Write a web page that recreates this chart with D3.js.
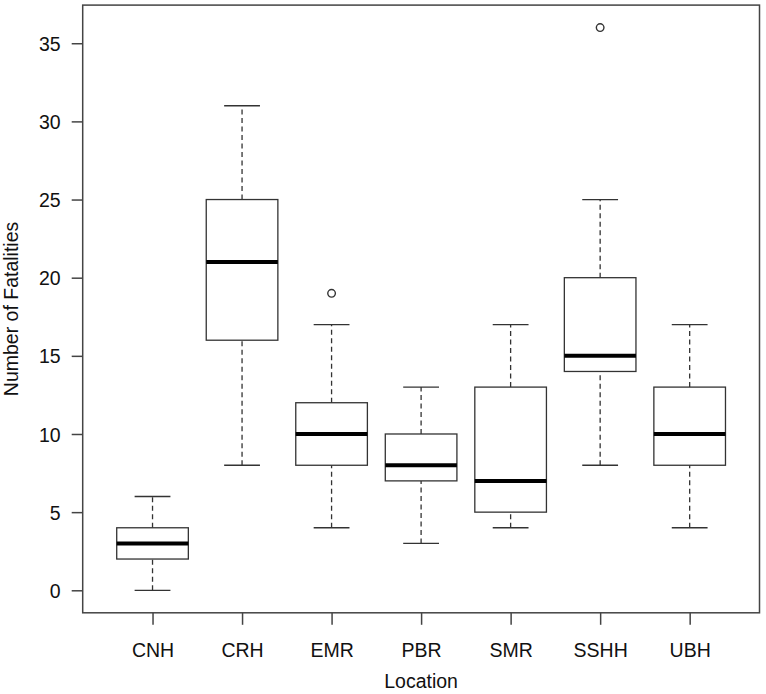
<!DOCTYPE html>
<html>
<head>
<meta charset="utf-8">
<script src="https://cdn.jsdelivr.net/npm/d3@7"></script>
<style>
  html, body { margin: 0; padding: 0; background: #fff; }
  text { font-family: "Liberation Sans", Arial, Helvetica, sans-serif; fill: #111; }
</style>
</head>
<body>
<svg id="chart" width="766" height="694"></svg>
<script>
const categories = ["CNH", "CRH", "EMR", "PBR", "SMR", "SSHH", "UBH"];
const whiskerLow = [0, 8, 4, 3, 4, 8, 4];
const q1Values   = [2, 16, 8, 7, 5, 14, 8];
const medians    = [3, 21, 10, 8, 7, 15, 10];
const q3Values   = [4, 25, 12, 10, 13, 20, 13];
const whiskerHigh= [6, 31, 17, 13, 17, 25, 17];
const outliers   = [[], [], [19], [], [], [36], []];
const yTicks = [0, 5, 10, 15, 20, 25, 30, 35];
const xTitle = "Location";
const yTitle = "Number of Fatalities";

const boxes = categories.map((c, i) => ({
  name: c, idx: i + 1,
  lo: whiskerLow[i], q1: q1Values[i], med: medians[i], q3: q3Values[i], hi: whiskerHigh[i],
  out: outliers[i]
}));

const plotLeft = 82.7, plotRight = 759.5, plotTop = 5.1, plotBottom = 612.8;
const fs = 19.5;
const n = categories.length;
const x = d3.scaleLinear().domain([0.5 - 0.04 * n, n + 0.5 + 0.04 * n]).range([plotLeft, plotRight]);
const yMin = 0, yMax = 36, ext = (yMax - yMin) * 0.04;
const y = d3.scaleLinear().domain([yMin - ext, yMax + ext]).range([plotBottom, plotTop]);

const svg = d3.select("#chart");
const stroke = "#333";
const unit = x(1) - x(0);
const boxW = 0.8 * unit, capW = 0.4 * unit;

const g = svg.append("g");
boxes.forEach(b => {
  const cx = x(b.idx);
  [[b.lo, b.q1], [b.q3, b.hi]].forEach(([a, c]) => {
    g.append("line").attr("x1", cx).attr("x2", cx).attr("y1", y(a)).attr("y2", y(c))
      .attr("stroke", stroke).attr("stroke-width", 1.3).attr("stroke-dasharray", "5,3.5");
  });
  [b.lo, b.hi].forEach(v => {
    g.append("line").attr("x1", cx - capW / 2).attr("x2", cx + capW / 2).attr("y1", y(v)).attr("y2", y(v))
      .attr("stroke", stroke).attr("stroke-width", 1.3);
  });
  g.append("rect").attr("x", cx - boxW / 2).attr("width", boxW)
    .attr("y", y(b.q3)).attr("height", y(b.q1) - y(b.q3))
    .attr("fill", "none").attr("stroke", stroke).attr("stroke-width", 1.3);
  g.append("line").attr("x1", cx - boxW / 2).attr("x2", cx + boxW / 2).attr("y1", y(b.med)).attr("y2", y(b.med))
    .attr("stroke", "#000").attr("stroke-width", 4);
  b.out.forEach(v => {
    g.append("circle").attr("cx", cx).attr("cy", y(v)).attr("r", 3.8)
      .attr("fill", "none").attr("stroke", stroke).attr("stroke-width", 1.4);
  });
});

svg.append("rect").attr("x", plotLeft).attr("y", plotTop).attr("width", plotRight - plotLeft).attr("height", plotBottom - plotTop)
  .attr("fill", "none").attr("stroke", "#444").attr("stroke-width", 1.5);

const yAxis = d3.axisLeft(y).tickValues(yTicks).tickSize(11).tickPadding(11).tickFormat(d3.format("d"));
const ya = svg.append("g").attr("transform", `translate(${plotLeft},0)`).call(yAxis);
ya.select(".domain").remove();
ya.selectAll(".tick line").attr("stroke", "#444").attr("stroke-width", 1.5);
ya.selectAll(".tick text").attr("font-size", fs).attr("fill", "#111").attr("dy", "0.36em")
  .style("font-family", "'Liberation Sans', Arial, sans-serif");

const xAxis = d3.axisBottom(x).tickValues(boxes.map(b => b.idx)).tickSize(12).tickPadding(18)
  .tickFormat(d => categories[d - 1]);
const xa = svg.append("g").attr("transform", `translate(0,${plotBottom})`).call(xAxis);
xa.select(".domain").remove();
xa.selectAll(".tick line").attr("stroke", "#444").attr("stroke-width", 1.5);
xa.selectAll(".tick text").attr("font-size", fs).attr("fill", "#111")
  .style("font-family", "'Liberation Sans', Arial, sans-serif");

svg.append("text").attr("x", (plotLeft + plotRight) / 2).attr("y", 688).attr("text-anchor", "middle")
  .attr("font-size", fs).text(xTitle);
svg.append("text").attr("transform", `translate(18,${(plotTop + plotBottom) / 2}) rotate(-90)`)
  .attr("text-anchor", "middle").attr("font-size", fs).text(yTitle);
</script>
</body>
</html>
